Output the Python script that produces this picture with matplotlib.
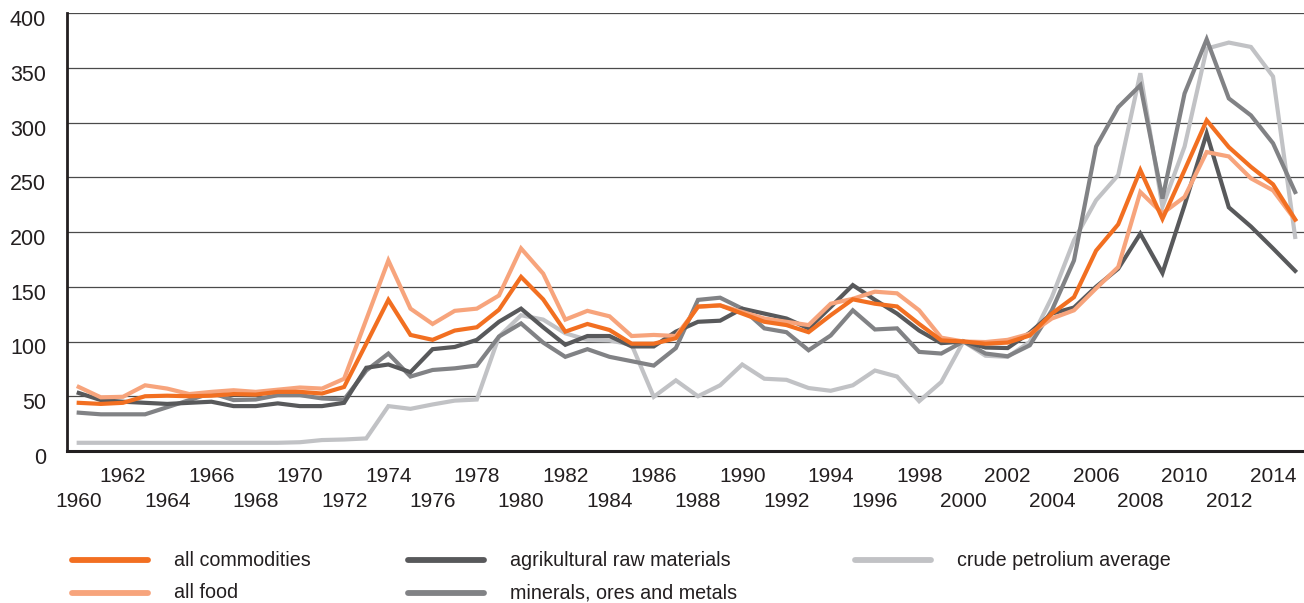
import matplotlib
matplotlib.use("Agg")
import matplotlib.pyplot as plt
import matplotlib.transforms as mtransforms
from matplotlib.lines import Line2D

plt.rcParams['font.family'] = ['Liberation Sans', 'DejaVu Sans']

years = list(range(1960, 2016))

all_commodities = [44, 43, 44, 50, 50.5, 50, 50.5, 52, 51.5, 54, 54, 52.5, 58.5, 98, 138,
                   106, 101.5, 110, 113, 129, 159, 138.5, 109, 116, 110.5, 98, 98, 103, 132,
                   133, 125.5, 118, 115, 108.5, 124, 138.5, 134.5, 132, 116, 101, 100, 98, 99,
                   105.5, 125.5, 140.5, 183, 207, 256.5, 212, 256.5, 302, 277.5, 259.5, 243.5, 211.5]
all_food = [58.5, 49, 49.5, 60, 57, 52, 54, 55.5, 54, 56, 58, 57, 66, 120, 174,
            130, 116, 128, 130, 142, 185, 162, 120, 128, 123, 105, 106, 105, 131.5,
            133, 127, 121, 118, 115, 134.5, 139, 145.5, 144, 128.5, 103.5, 100, 99.5, 101.5,
            107, 121, 128.5, 148.5, 168, 236.5, 217, 232, 273, 269, 249, 238, 211]
agri_raw = [53, 46.5, 45, 44, 43, 44, 45, 41, 41, 43.5, 41, 41, 44, 76, 79,
            72, 93, 95, 101.5, 118, 130, 113, 97, 105, 105, 95.5, 95.5, 109, 118,
            119, 130, 125.5, 121, 112, 131.5, 151.5, 138, 125.5, 110, 98.5, 100, 94.5, 94,
            108, 125.5, 131, 150, 166.5, 198.5, 162.5, 224.5, 290, 222.5, 205, 185, 164.5]
minerals = [35, 33.5, 33.5, 33.5, 40, 46.5, 53, 46.5, 47, 51, 51, 48, 47, 73.5, 89,
            68, 74, 75.5, 78, 104.5, 116.5, 99, 86, 93, 86, 82, 78, 94, 138,
            140, 130, 112, 108.5, 92, 105.5, 128.5, 111, 112, 90.5, 89, 100, 89, 86.5,
            96.5, 128.5, 174, 278, 314, 334, 230.5, 326.5, 376, 322, 306.5, 281, 236.5]
crude = [7.5, 7.5, 7.5, 7.5, 7.5, 7.5, 7.5, 7.5, 7.5, 7.5, 8, 10, 10.5, 11.5, 41,
         38.5, 42.5, 46, 47, 104.5, 124, 120, 107.5, 101.5, 101, 97, 49.5, 64.5, 50,
         60, 79, 66, 65, 57.5, 55, 60, 73.5, 68, 45.5, 63, 100, 87, 86,
         99.5, 140.5, 192.5, 229, 252, 345, 223, 278, 367.5, 373, 369, 342, 195.5]

series_names = ["all commodities", "all food", "agrikultural raw materials",
                "minerals, ores and metals", "crude petrolium average"]
series_values = [all_commodities, all_food, agri_raw, minerals, crude]
colors = ["#F26F21", "#F7A47C", "#58595B", "#818285", "#C1C2C5"]
zorders = [6, 5, 4, 3, 2]

y_ticks = list(range(0, 401, 50))
x_lower = list(range(1960, 2015, 4))
x_upper = list(range(1962, 2015, 4))

TXT = "#231F20"
fig = plt.figure(figsize=(13.04, 6.03), dpi=100)
ax = fig.add_axes([67/1304, 1 - 451/603, 1 - 67/1304, (451 - 13)/603])

for name, vals, c, z in zip(series_names, series_values, colors, zorders):
    ax.plot(years, vals, color=c, lw=3.0, zorder=z, solid_joinstyle='miter', label=name)

ax.set_xlim(1959.47, 2015.4)
ax.set_ylim(0, 400)
ax.set_yticks(y_ticks)
ax.set_yticklabels([str(v) for v in y_ticks], fontsize=15.5, color=TXT)
ax.yaxis.grid(True, color="#4a4a4a", lw=0.9)
ax.set_axisbelow(True)

ax.set_xticks(x_lower)
ax.set_xticklabels([str(v) for v in x_lower], fontsize=15, color=TXT)
ax.set_xticks(x_upper, minor=True)
ax.set_xticklabels([str(v) for v in x_upper], minor=True, fontsize=15, color=TXT)
ax.tick_params(axis='x', which='major', length=0, pad=29.5)
ax.tick_params(axis='x', which='minor', length=0, pad=11.5)
ax.tick_params(axis='y', length=0, pad=15)

offset = mtransforms.ScaledTranslation(0, -5/100, fig.dpi_scale_trans)
for lbl in ax.get_yticklabels():
    lbl.set_transform(lbl.get_transform() + offset)

for s in ['top', 'right']:
    ax.spines[s].set_visible(False)
ax.spines['left'].set_color(TXT)
ax.spines['left'].set_linewidth(2.0)
ax.spines['bottom'].set_color(TXT)
ax.spines['bottom'].set_linewidth(2.2)

# legend (manual layout, 3 columns)
W, H = 1304, 603
leg_pos = [(72, 560), (72, 593), (408, 560), (408, 593), (855, 560)]
for (px, py), name, c in zip(leg_pos, series_names, colors):
    fig.add_artist(Line2D([px / W, (px + 76) / W], [1 - py / H, 1 - py / H],
                          color=c, lw=4.2, solid_capstyle='round'))
    fig.text((px + 102) / W, 1 - py / H, name, fontsize=14.2, color=TXT,
             va='center', ha='left')

fig.savefig("out.png", dpi=100)
